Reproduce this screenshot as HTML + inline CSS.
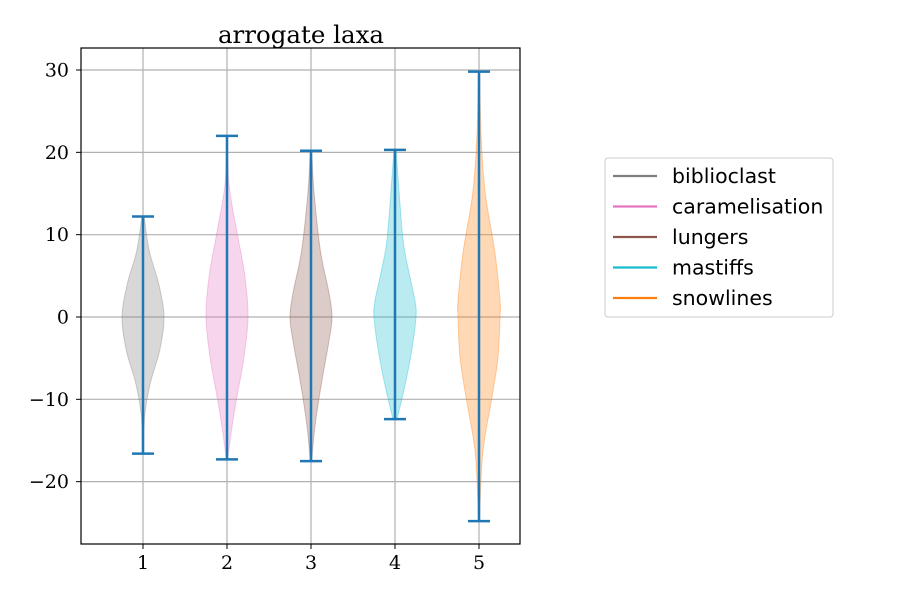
<!DOCTYPE html>
<html><head><meta charset="utf-8"><style>
body{margin:0;background:#fff;}
svg{display:block;}
.tick{font-family:"DejaVu Serif","Liberation Serif",serif;font-size:19px;fill:#000;}
.leg{font-family:"DejaVu Sans","Liberation Sans",sans-serif;font-size:20.5px;fill:#000;}
</style></head><body>
<svg id="chart" width="900" height="600" viewBox="0 0 900 600">
<rect width="900" height="600" fill="#fff"/>
<g id="grid"></g><g id="violins"></g><g id="bars"></g>
<rect x="81" y="48" width="439" height="496" fill="none" stroke="#000" stroke-width="1.2"/>
<g id="ticks"></g>
<text x="301" y="43" text-anchor="middle" style="font-family:'DejaVu Serif','Liberation Serif',serif;font-size:24.5px">arrogate laxa</text>
<g id="legend"></g>
</svg>
<script>
const categories=["biblioclast","caramelisation","lungers","mastiffs","snowlines"];
const colors=["#7f7f7f","#e377c2","#8c564b","#17becf","#ff7f0e"];
const mins=[-16.6,-17.3,-17.5,-12.4,-24.8];
const maxs=[12.2,22,20.2,20.3,29.8];
const profY=[
[12.2,8,4,0,-4,-8,-12,-16.6],
[22,16,10,5,0,-5,-10,-14,-17.3],
[20.2,15,8,3,0,-3,-8,-13,-17.5],
[20.3,15,9,5,2,0,-4,-8,-12.4],
[29.8,22,15,8,2,0,-5,-10,-16,-22,-24.8]];
const profW=[
[0.05,0.3,0.75,1,0.8,0.35,0.08,0.03],
[0.03,0.1,0.5,0.85,1,0.8,0.45,0.2,0.03],
[0.03,0.15,0.45,0.85,1,0.85,0.5,0.2,0.03],
[0.05,0.2,0.4,0.7,0.95,1,0.8,0.5,0.1],
[0.03,0.1,0.3,0.75,1,1,0.9,0.6,0.2,0.06,0.03]];
const yTicks=[-20,-10,0,10,20,30];
const xTicks=[1,2,3,4,5];
const NS="http://www.w3.org/2000/svg";
const X=v=>143+(v-1)*84;
const Y=v=>317-8.233*v;
function mk(t,a,p){const e=document.createElementNS(NS,t);for(const k in a)e.setAttribute(k,a[k]);p.appendChild(e);return e;}
const grid=document.getElementById('grid'),ticks=document.getElementById('ticks');
yTicks.forEach(t=>{
const l=mk('line',{x1:81,x2:520,y1:Y(t),y2:Y(t),stroke:'#b0b0b0','stroke-width':1.2},grid);


mk('line',{x1:76,x2:81,y1:Y(t),y2:Y(t),stroke:'#000'},ticks);
const tx=mk('text',{x:69,y:Y(t)+6.5,'text-anchor':'end',class:'tick'},ticks);
tx.textContent=t<0?'\u2212'+(-t):String(t);


});
xTicks.forEach(t=>{
const l=mk('line',{x1:X(t),x2:X(t),y1:48,y2:544,stroke:'#b0b0b0','stroke-width':1.2},grid);


mk('line',{x1:X(t),x2:X(t),y1:544,y2:549,stroke:'#000'},ticks);
const tx=mk('text',{x:X(t),y:569,'text-anchor':'middle',class:'tick'},ticks);
tx.textContent=String(t);


});
function smooth(pts){let d='M'+pts[0][0]+','+pts[0][1];
for(let i=0;i<pts.length-1;i++){const p0=pts[Math.max(0,i-1)],p1=pts[i],p2=pts[i+1],p3=pts[Math.min(pts.length-1,i+2)];
d+=` C${p1[0]+(p2[0]-p0[0])/6},${p1[1]+(p2[1]-p0[1])/6} ${p2[0]-(p3[0]-p1[0])/6},${p2[1]-(p3[1]-p1[1])/6} ${p2[0]},${p2[1]}`;}
return d;}
const vg=document.getElementById('violins'),bg=document.getElementById('bars');
categories.forEach((c,i)=>{
const cx=X(i+1);const hw=0.25*84;
const right=profY[i].map((y,k)=>[cx+hw*profW[i][k],Y(y)]);
const left=profY[i].map((y,k)=>[cx-hw*profW[i][k],Y(y)]).reverse();
const d=smooth(right)+' L'+smooth(left).slice(1)+' Z';
const p=mk('path',{d:d,fill:colors[i],'fill-opacity':0.3,stroke:colors[i],'stroke-opacity':0.35,'stroke-width':1},vg);


const g=mk('g',{stroke:'#1f77b4','stroke-width':2.5},bg);


mk('line',{x1:cx,x2:cx,y1:Y(maxs[i]),y2:Y(mins[i])},g);
mk('line',{x1:cx-11,x2:cx+11,y1:Y(maxs[i]),y2:Y(maxs[i])},g);
mk('line',{x1:cx-11,x2:cx+11,y1:Y(mins[i]),y2:Y(mins[i])},g);
});
const lg=document.getElementById('legend');


mk('rect',{x:605,y:158,width:228,height:159,rx:3,fill:'#fff',stroke:'#ccc'},lg);
categories.forEach((c,i)=>{
const y=176+i*30.5;
const e=mk('g',{},lg);


mk('line',{x1:613,x2:657,y1:y,y2:y,stroke:colors[i],'stroke-width':2.2},e);
const t=mk('text',{x:672,y:y+7,class:'leg'},e);t.textContent=c;
});
</script>
</body></html>
